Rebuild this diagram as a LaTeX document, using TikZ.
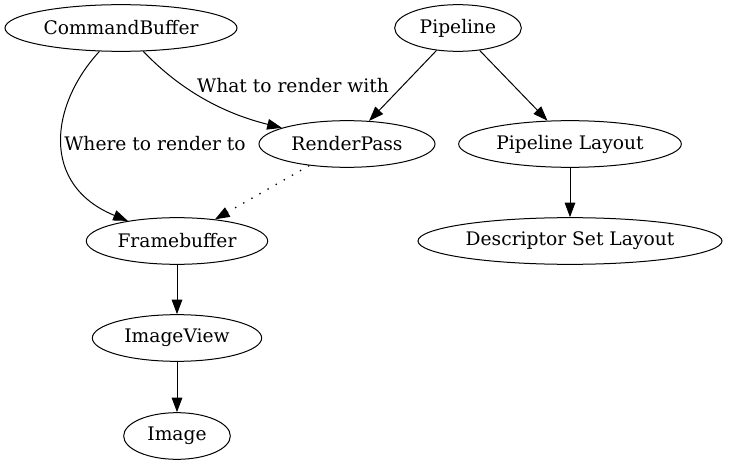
\documentclass[tikz,border=0pt]{standalone}
\usepackage{fontspec}
\setmainfont{DejaVu Serif}
\usetikzlibrary{shapes.geometric,arrows.meta}

\tikzset{
  obj/.style={draw, ellipse, line width=0.75pt, inner sep=0pt, minimum height=35pt, font=\fontsize{14}{16}\selectfont},
  edge/.style={-{Triangle[length=11pt,width=8pt]}, line width=0.75pt},
  dots/.style={dash pattern=on 1pt off 6pt, line width=1pt},
  elabel/.style={font=\fontsize{14}{16}\selectfont}
}

\begin{document}
\begin{tikzpicture}[x=0.75pt, y=-0.75pt]

	\useasboundingbox (0,0) rectangle (729,467);

	\node[obj, minimum width=174pt] (cmdbuf) at (121,28) {CommandBuffer};
	\node[obj, minimum width=95pt] (pipeline) at (458,28) {Pipeline};
	\node[obj, minimum width=132pt] (renderpass) at (347,144) {RenderPass};
	\node[obj, minimum width=167pt] (pipelayout) at (570,144) {Pipeline Layout};
	\node[obj, minimum width=136pt] (framebuf) at (177,241) {Framebuffer};
	\node[obj, minimum width=228pt] (dsl) at (570,241) {Descriptor Set Layout};
	\node[obj, minimum width=127pt] (imageview) at (177,338) {ImageView};
	\node[obj, minimum width=80pt] (image) at (177,436) {Image};

	\draw[edge] (cmdbuf) .. controls (50,105) and (40,185) .. (framebuf);
	\draw[edge] (cmdbuf) .. controls (185,95) and (230,115) .. (renderpass);
	\node[elabel] (wherelbl) at (155,144) {Where to render to};
	\node[elabel] (whatlbl) at (293,86) {What to render with};

	\draw[edge] (pipeline) -- (renderpass);
	\draw[edge] (pipeline) -- (pipelayout);
	\draw[edge, dots] (renderpass) -- (framebuf);
	\draw[edge] (pipelayout) -- (dsl);
	\draw[edge] (framebuf) -- (imageview);
	\draw[edge] (imageview) -- (image);

\end{tikzpicture}
\end{document}
